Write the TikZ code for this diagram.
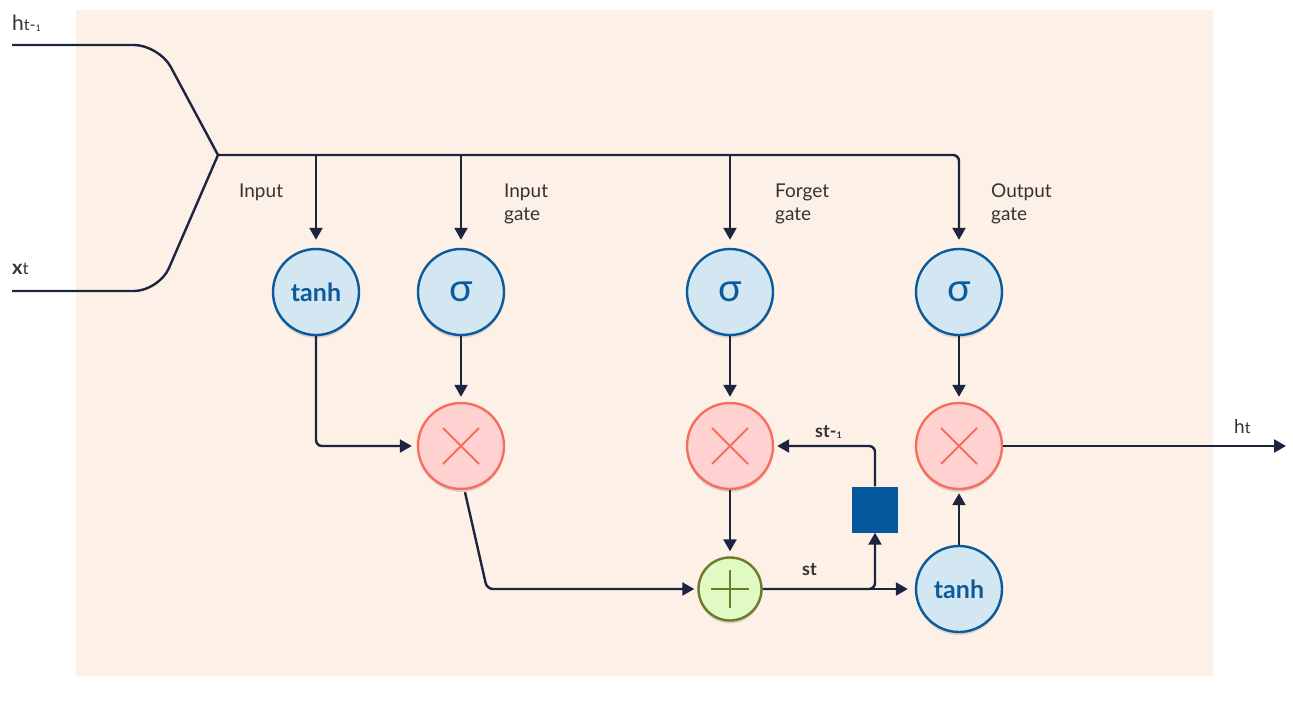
\documentclass[tikz,border=0pt]{standalone}
\usepackage{fontspec}
\setmainfont{Lato}
\usetikzlibrary{calc,positioning,arrows.meta,shadows}
\definecolor{bgpeach}{HTML}{FDF0E7}
\definecolor{wirecol}{HTML}{1D2440}
\definecolor{gateblue}{HTML}{0B5A9B}
\definecolor{gatefill}{HTML}{D2E7F1}
\definecolor{multred}{HTML}{F76E5F}
\definecolor{multfill}{HTML}{FFD1D1}
\definecolor{addgreen}{HTML}{6B7B27}
\definecolor{addfill}{HTML}{E1F9C2}
\definecolor{memblue}{HTML}{04589B}
\definecolor{labelgray}{HTML}{333333}
\begin{document}
\begin{tikzpicture}[x=1pt,y=-1pt,
  link/.style={draw=wirecol,line width=2.4pt,rounded corners=6pt},
  flow/.style={link,-{Triangle[length=12pt,width=13pt]},shorten >=5pt},
  soft/.style={drop shadow={shadow xshift=0pt,shadow yshift=-3pt,opacity=.12,fill=black}},
  act/.style={circle,minimum size=86pt,inner sep=0pt,draw=gateblue,line width=2.4pt,fill=gatefill,text=gateblue,soft},
  mul/.style={circle,minimum size=86pt,inner sep=0pt,draw=multred,line width=2.4pt,fill=multfill,soft},
  add/.style={circle,minimum size=63pt,inner sep=0pt,draw=addgreen,line width=2.4pt,fill=addfill,soft},
  lbl/.style={text=labelgray,inner sep=0pt,align=left,font=\fontsize{19}{23}\selectfont},
  sig/.style={act,font=\fontsize{39}{39}\selectfont},
  tnh/.style={act,font=\bfseries\fontsize{25}{25}\selectfont}]
\useasboundingbox (0,0) rectangle (1293,707);
\fill[bgpeach] (76,10) rectangle (1213,676);

% inputs
\node[lbl,anchor=base west] (hprev) at (12,30) {\fontsize{21}{21}\selectfont h{\fontsize{16}{16}\selectfont t-\raisebox{-1pt}{\fontsize{9}{9}\selectfont 1}}};
\node[lbl,anchor=base west] (xin) at (12,274) {\fontsize{20}{20}\selectfont\bfseries x{\fontsize{17}{17}\selectfont\mdseries t}};
\coordinate (split) at (218,155);
\draw[link,rounded corners=25pt] (12,45) -- (159,45) -- (split);
\draw[link,rounded corners=25pt] (12,291) -- (159,291) -- (split);

% gates
\node[tnh] (tanhi) at (316,292) {tanh};
\node[sig] (sigi) at (461,292) {σ};
\node[sig] (sigf) at (730,292) {σ};
\node[sig] (sigo) at (959,292) {σ};
\node[mul] (muli) at (461,446) {};
\node[mul] (mulf) at (730,446) {};
\node[mul] (mulo) at (959,446) {};
\node[add] (plus) at (730,589) {};
\node[tnh] (tanho) at (959,589) {tanh};
\node[rectangle,minimum size=46pt,inner sep=0pt,fill=memblue] (mem) at (875,509.5) {};
\foreach \m in {muli,mulf,mulo}
  \draw[multred,line width=2pt] ([shift={(-18pt,-18pt)}]\m.center) -- ([shift={(18pt,18pt)}]\m.center)
    ([shift={(-18pt,18pt)}]\m.center) -- ([shift={(18pt,-18pt)}]\m.center);
\draw[addgreen,line width=2pt] ([xshift=-19pt]plus.center) -- ([xshift=19pt]plus.center)
  ([yshift=-19pt]plus.center) -- ([yshift=19pt]plus.center);

\node[lbl,anchor=north west] (lin) at (239,184) {Input};
\node[lbl,anchor=north west] (lig) at (504,184) {Input\\gate};
\node[lbl,anchor=north west] (lfg) at (775,184) {Forget\\gate};
\node[lbl,anchor=north west] (log) at (991,184) {Output\\gate};

% connectors
\draw[flow,shorten >=8pt] (split) -| (sigo);
\draw[flow,shorten >=8pt] (tanhi|-split) -- (tanhi);
\draw[flow,shorten >=8pt] (sigi|-split) -- (sigi);
\draw[flow,shorten >=8pt] (sigf|-split) -- (sigf);
\draw[flow] (tanhi) |- (muli);
\draw[flow] (sigi) -- (muli);
\coordinate (dip) at (487,589);
\draw[flow,shorten >=3pt] ([xshift=4pt,yshift=-2pt]muli.south) -- (dip) -- (plus);
\draw[flow] (sigf) -- (mulf);
\draw[flow] (mulf) -- (plus);
\draw[flow,shorten >=7pt] (plus) -- (tanho);
\draw[flow,shorten >=0pt] (plus) -| (mem);
\draw[flow,shorten >=3pt] (mem) |- (mulf);
\draw[flow,shorten >=3pt] (tanho) -- (mulo);
\draw[flow] (sigo) -- (mulo);
\coordinate (out) at (1286,446);
\draw[flow,shorten >=0pt] (mulo) -- (out);

\node[lbl,anchor=base west,font=\bfseries\fontsize{18}{18}\selectfont] (st) at (802,575) {st};
\node[lbl,anchor=base west,font=\bfseries\fontsize{18}{18}\selectfont] (sprev) at (815,437) {st-\raisebox{-1pt}{\fontsize{9}{9}\selectfont 1}};
\node[lbl,anchor=base west] (hout) at (1234,433) {h{\fontsize{16}{16}\selectfont t}};
\end{tikzpicture}
\end{document}
